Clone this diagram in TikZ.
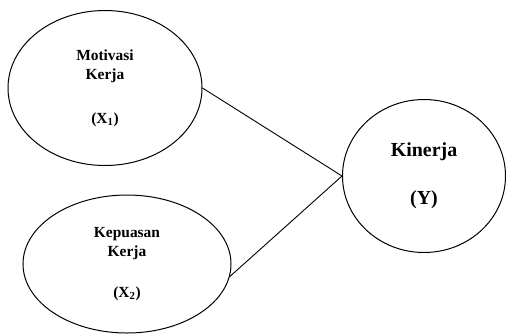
\documentclass[tikz,border=0pt]{standalone}
\usepackage{fontspec}
\setmainfont{Liberation Serif}
\usetikzlibrary{shapes.geometric}

\def\smallsz{\fontsize{15.5}{19}\selectfont\bfseries}
\def\bigsz{\fontsize{20}{24}\selectfont\bfseries}

\begin{document}
\begin{tikzpicture}[x=1bp, y=-1bp, line cap=round,
                    var/.style={ellipse, draw, line width=1bp, inner sep=0pt,
                                align=center, font=\smallsz},
                    link/.style={line width=0.9bp}
                   ]

    \useasboundingbox (0,0) rectangle (507,335);

    \node [var, minimum width=194bp, minimum height=155bp] (mot) at (105,88)
        {Motivasi\\ Kerja\\[25bp] (X\textsubscript{1})};
    \node [var, minimum width=208bp, minimum height=138bp] (kep) at (127,264)
        {Kepuasan\\ Kerja\\[22bp] (X\textsubscript{2})};
    \node [var, minimum width=163bp, minimum height=153bp, font=\bigsz] (kin) at (424,176)
        {Kinerja\\[24bp] (Y)};

    \draw [link] (mot.east) -- (kin.west);
    \draw [link] (kep.-7) -- (kin.west);

\end{tikzpicture}
\end{document}
